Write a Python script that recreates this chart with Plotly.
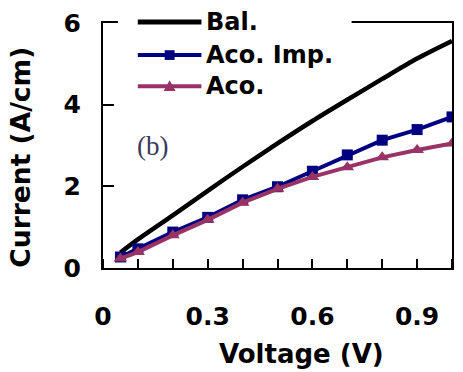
import plotly.graph_objects as go

voltage = [0.05, 0.1, 0.2, 0.3, 0.4, 0.5, 0.6, 0.7, 0.8, 0.9, 1.0]
bal = [0.38, 0.70, 1.29, 1.89, 2.48, 3.05, 3.60, 4.12, 4.63, 5.13, 5.56]
aco_imp = [0.27, 0.47, 0.88, 1.24, 1.67, 1.99, 2.37, 2.77, 3.13, 3.39, 3.70]
aco = [0.23, 0.39, 0.80, 1.18, 1.60, 1.94, 2.23, 2.47, 2.71, 2.89, 3.05]
x_tick_vals = [0, 0.3, 0.6, 0.9]
x_tick_text = ["0", "0.3", "0.6", "0.9"]
y_tick_vals = [0, 2, 4, 6]
series_names = ["Bal.", "Aco. Imp.", "Aco."]

BLACK = "#000000"
BLUE = "#000080"
PURPLE = "#993366"
FONT = "DejaVu Sans"

fig = go.Figure()
fig.add_trace(go.Scatter(x=voltage, y=bal, mode="lines", name=series_names[0],
                         line=dict(color=BLACK, width=4.5, shape="spline", smoothing=0.8)))
fig.add_trace(go.Scatter(x=voltage, y=aco_imp, mode="lines+markers", name=series_names[1],
                         line=dict(color=BLUE, width=4),
                         marker=dict(symbol="square", size=11, color=BLUE)))
fig.add_trace(go.Scatter(x=voltage, y=aco, mode="lines+markers", name=series_names[2],
                         line=dict(color=PURPLE, width=4),
                         marker=dict(symbol="triangle-up", size=12, color=PURPLE)))

L, R, T, B = 103, 9, 16, 104
W, H = 463, 372
pw, ph = W - L - R, H - T - B


def px(x):
    return (x - L) / pw


def py(y):
    return (H - B - y) / ph


shapes = []
annotations = []
# legend background covering the top frame
shapes.append(dict(type="rect", xref="paper", yref="paper", x0=px(118), x1=px(353),
                   y0=py(22), y1=py(8), fillcolor="white", line=dict(width=0), layer="above"))
rows = [15, 49, 81]
colors = [BLACK, BLUE, PURPLE]
for i, (name, c, ry) in enumerate(zip(series_names, colors, rows)):
    shapes.append(dict(type="line", xref="paper", yref="paper", x0=px(138), x1=px(202),
                       y0=py(ry), y1=py(ry), line=dict(color=c, width=5 if i == 0 else 4),
                       layer="above"))
    annotations.append(dict(x=px(205), y=py(ry), xref="paper", yref="paper", text=name,
                            showarrow=False, xanchor="left", yanchor="middle",
                            font=dict(family=FONT, size=24, color="black", weight="bold")))
# legend markers
shapes.append(dict(type="rect", xref="paper", yref="paper", x0=px(165), x1=px(175),
                   y0=py(rows[1] + 5), y1=py(rows[1] - 5), fillcolor=BLUE,
                   line=dict(width=0), layer="above"))
shapes.append(dict(type="path", xref="paper", yref="paper",
                   path=f"M {px(164)} {py(rows[2]+5)} L {px(176)} {py(rows[2]+5)} L {px(170)} {py(rows[2]-6)} Z",
                   fillcolor=PURPLE, line=dict(width=0), layer="above"))

annotations.append(dict(x=px(303), y=py(356), xref="paper", yref="paper", text="Voltage (V)",
                        showarrow=False, xanchor="center", yanchor="middle",
                        font=dict(family=FONT, size=26, color="black", weight="bold")))
annotations.append(dict(x=px(20), y=py(154), xref="paper", yref="paper", text="Current (A/cm)",
                        showarrow=False, textangle=-90, xanchor="center", yanchor="middle",
                        font=dict(family=FONT, size=26.5, color="black", weight="bold")))
annotations.append(dict(x=px(153), y=py(143), xref="paper", yref="paper", text="(b)",
                        showarrow=False, xanchor="center", yanchor="middle",
                        font=dict(family="Liberation Serif", size=27, color="#3a3a58")))

fig.update_layout(
    width=W, height=H,
    margin=dict(l=L, r=R, t=T, b=B),
    paper_bgcolor="white", plot_bgcolor="white",
    showlegend=False,
    shapes=shapes, annotations=annotations,
    xaxis=dict(range=[0, 1], tickvals=x_tick_vals, ticktext=x_tick_text, ticks="",
               showgrid=False, zeroline=False, showline=True, linecolor="black", linewidth=2,
               mirror=True, ticklabelstandoff=25,
               tickfont=dict(family=FONT, size=25, color="black", weight="bold"),
               minor=dict(ticks="inside", dtick=0.1, tick0=0, ticklen=9, tickwidth=1.5,
                          tickcolor="black", showgrid=False)),
    yaxis=dict(range=[0, 6], tickvals=y_tick_vals, ticks="inside", ticklen=11, tickwidth=1.5,
               tickcolor="black", showgrid=False, zeroline=False, showline=True,
               linecolor="black", linewidth=2, mirror=True, ticklabelstandoff=15,
               tickfont=dict(family=FONT, size=25, color="black", weight="bold")),
)

fig.write_html("out.html")
